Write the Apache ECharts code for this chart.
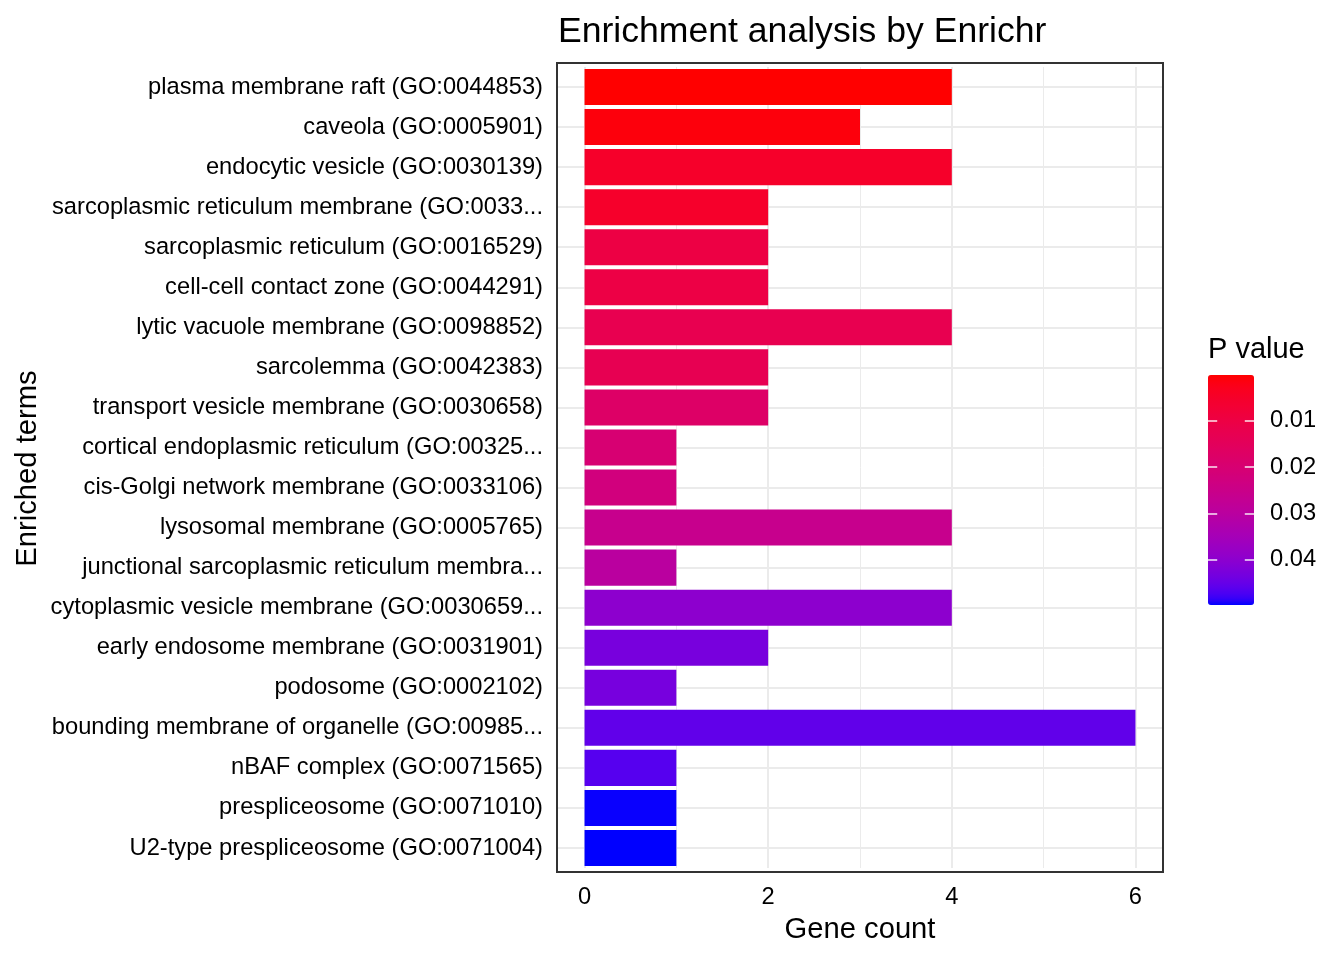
<!DOCTYPE html>
<html>
<head>
<meta charset="utf-8">
<title>Enrichment analysis by Enrichr</title>
<script src="https://cdn.jsdelivr.net/npm/echarts@6/dist/echarts.min.js"></script>
<style>
html, body { margin: 0; padding: 0; background: #fff; }
#main { width: 1344px; height: 960px; }
</style>
</head>
<body>
<div id="main"></div>
<script>
// data
var terms = [
    "plasma membrane raft (GO:0044853)",
    "caveola (GO:0005901)",
    "endocytic vesicle (GO:0030139)",
    "sarcoplasmic reticulum membrane (GO:0033...",
    "sarcoplasmic reticulum (GO:0016529)",
    "cell-cell contact zone (GO:0044291)",
    "lytic vacuole membrane (GO:0098852)",
    "sarcolemma (GO:0042383)",
    "transport vesicle membrane (GO:0030658)",
    "cortical endoplasmic reticulum (GO:00325...",
    "cis-Golgi network membrane (GO:0033106)",
    "lysosomal membrane (GO:0005765)",
    "junctional sarcoplasmic reticulum membra...",
    "cytoplasmic vesicle membrane (GO:0030659...",
    "early endosome membrane (GO:0031901)",
    "podosome (GO:0002102)",
    "bounding membrane of organelle (GO:00985...",
    "nBAF complex (GO:0071565)",
    "prespliceosome (GO:0071010)",
    "U2-type prespliceosome (GO:0071004)"
];
var geneCounts = [4, 3, 4, 2, 2, 2, 4, 2, 2, 1, 1, 4, 1, 4, 2, 1, 6, 1, 1, 1];
var pValues = [0.00012, 0.0011, 0.0050, 0.0052, 0.0100, 0.0102, 0.0126, 0.0131, 0.0175, 0.0200,
               0.0225, 0.0260, 0.0300, 0.0399, 0.0429, 0.0431, 0.0455, 0.0465, 0.0496, 0.0498];
var countTicks = [0, 2, 4, 6];
var countMinorTicks = [1, 3, 5];
var pTicks = [0.01, 0.02, 0.03, 0.04];

var FONT = "'Liberation Sans', Arial, Helvetica, sans-serif";
// panel box (ggplot panel incl. 0.6 discrete expansion each side)
var panel = {left: 557, top: 63, width: 606, height: 809};
var unit = panel.height / (terms.length + 0.2);
var inner = {top: panel.top + 0.1 * unit, height: unit * terms.length};
var bar = {left: 1208, top: 375, width: 46, height: 230};

// red -> blue ramp interpolated in Lab like ggplot
function toLin(c) { c /= 255; return c <= 0.04045 ? c / 12.92 : Math.pow((c + 0.055) / 1.055, 2.4); }
function toSrgb(c) {
    c = c <= 0.0031308 ? 12.92 * c : 1.055 * Math.pow(c, 1 / 2.4) - 0.055;
    return Math.round(Math.max(0, Math.min(1, c)) * 255);
}
function rgbToLab(rgb) {
    var r = toLin(rgb[0]), g = toLin(rgb[1]), b = toLin(rgb[2]);
    var x = (0.4124 * r + 0.3576 * g + 0.1805 * b) / 0.95047;
    var y = 0.2126 * r + 0.7152 * g + 0.0722 * b;
    var z = (0.0193 * r + 0.1192 * g + 0.9505 * b) / 1.08883;
    var f = function (t) { return t > 0.008856 ? Math.cbrt(t) : 7.787 * t + 16 / 116; };
    var fx = f(x), fy = f(y), fz = f(z);
    return [116 * fy - 16, 500 * (fx - fy), 200 * (fy - fz)];
}
function labToHex(lab) {
    var fy = (lab[0] + 16) / 116, fx = fy + lab[1] / 500, fz = fy - lab[2] / 200;
    var inv = function (f) { var f3 = f * f * f; return f3 > 0.008856 ? f3 : (f - 16 / 116) / 7.787; };
    var x = 0.95047 * inv(fx), y = inv(fy), z = 1.08883 * inv(fz);
    var r = 3.2406 * x - 1.5372 * y - 0.4986 * z;
    var g = -0.9689 * x + 1.8758 * y + 0.0415 * z;
    var b = 0.0557 * x - 0.2040 * y + 1.0570 * z;
    return "#" + [r, g, b].map(function (v) {
        var s = toSrgb(v).toString(16);
        return s.length < 2 ? "0" + s : s;
    }).join("");
}
var labLow = rgbToLab([255, 0, 0]), labHigh = rgbToLab([0, 0, 255]);
var ramp = [];
for (var i = 0; i <= 40; i++) {
    var t = i / 40;
    ramp.push(labToHex([0, 1, 2].map(function (k) { return labLow[k] + (labHigh[k] - labLow[k]) * t; })));
}

var pMin = Math.min.apply(null, pValues);
var pMax = Math.max.apply(null, pValues);

//网格线
var gridLines = [];
countTicks.forEach(function (v) { gridLines.push({xAxis: v, lineStyle: {width: 2}}); });
countMinorTicks.forEach(function (v) { gridLines.push({xAxis: v, lineStyle: {width: 1}}); });
terms.forEach(function (t) { gridLines.push({yAxis: t, lineStyle: {width: 2}}); });

// colourbar ticks (white, at both edges, 1/5 of the bar width)
var barTicks = [];
pTicks.forEach(function (v) {
    barTicks.push([{coord: [0, v]}, {coord: [0.2, v]}]);
    barTicks.push([{coord: [0.8, v]}, {coord: [1, v]}]);
});

var chart = echarts.init(document.getElementById("main"));
var option = {
    animation: false,
    backgroundColor: "#fff",
    textStyle: {fontFamily: FONT},
    title: [{
        text: "Enrichment analysis by Enrichr",
        left: 558, top: 14, padding: 0,
        textStyle: {fontFamily: FONT, fontSize: 35.6, fontWeight: "normal", color: "#000"}
    }, {
        text: "P value",
        left: bar.left, top: 335, padding: 0,
        textStyle: {fontFamily: FONT, fontSize: 29, fontWeight: "normal", color: "#000"}
    }],
    grid: [{
        left: panel.left, top: inner.top, width: panel.width, height: inner.height,
        outerBoundsMode: "none"
    }, {
        left: bar.left, top: bar.top, width: bar.width, height: bar.height,
        outerBoundsMode: "none"
    }],
    visualMap: {
        type: "continuous",
        seriesIndex: 0,
        dimension: 2,
        min: pMin,
        max: pMax,
        inverse: true,
        calculable: false,
        hoverLink: false,
        left: bar.left,
        top: bar.top,
        padding: 0,
        z: 2,
        itemWidth: bar.width,
        itemHeight: bar.height,
        text: null,
        inRange: {color: ramp}
    },
    xAxis: [{
        gridIndex: 0,
        type: "value",
        min: -0.3,
        max: 6.3,
        offset: panel.top + panel.height - inner.top - inner.height,
        axisLine: {show: false},
        axisTick: {customValues: countTicks, length: 9, lineStyle: {color: "#333", width: 2}},
        axisLabel: {customValues: countTicks, fontSize: 23.7, margin: 13, color: "#000", fontFamily: FONT},
        splitLine: {show: false}
    }, {
        gridIndex: 1,
        type: "value",
        min: 0,
        max: 1,
        show: false
    }],
    yAxis: [{
        gridIndex: 0,
        type: "category",
        data: terms,
        inverse: true,
        axisLine: {show: false},
        axisTick: {alignWithLabel: true, length: 9, lineStyle: {color: "#333", width: 2}},
        axisLabel: {interval: 0, fontSize: 23.7, margin: 14, padding: [4, 0, 0, 0],
                    color: "#000", fontFamily: FONT},
        splitLine: {show: false}
    }, {
        gridIndex: 1,
        type: "value",
        min: pMin,
        max: pMax,
        inverse: true,
        position: "right",
        axisLine: {show: false},
        axisTick: {show: false},
        axisLabel: {customValues: pTicks, fontSize: 23.7, margin: 16, padding: [5, 0, 0, 0],
                    color: "#000", fontFamily: FONT},
        splitLine: {show: false}
    }],
    series: [{
        type: "bar",
        xAxisIndex: 0,
        yAxisIndex: 0,
        z: 3,
        barCategoryGap: "10%",
        encode: {x: 0, y: 1},
        data: terms.map(function (t, i) { return [geneCounts[i], t, pValues[i]]; })
    }, {
        type: "scatter",
        xAxisIndex: 0,
        yAxisIndex: 0,
        z: 1,
        data: [],
        markLine: {
            z: 1,
            silent: true,
            symbol: ["none", "none"],
            label: {show: false},
            lineStyle: {color: "#ebebeb", type: "solid"},
            data: gridLines
        }
    }, {
        type: "scatter",
        xAxisIndex: 1,
        yAxisIndex: 1,
        data: [],
        markLine: {
            z: 10,
            silent: true,
            symbol: ["none", "none"],
            label: {show: false},
            lineStyle: {color: "#fff", type: "solid", width: 1.5, opacity: 0.9},
            data: barTicks
        }
    }],
    graphic: [{
        type: "rect",
        z: 100,
        silent: true,
        shape: {x: panel.left, y: panel.top, width: panel.width, height: panel.height},
        style: {fill: null, stroke: "#333", lineWidth: 2}
    }, {
        type: "text",
        x: panel.left + panel.width / 2,
        y: 930,
        style: {text: "Gene count", font: "29.2px " + FONT, fill: "#000", align: "center", verticalAlign: "middle"}
    }, {
        type: "text",
        x: 28,
        y: panel.top + panel.height / 2 + 1,
        rotation: Math.PI / 2,
        style: {text: "Enriched terms", font: "29.2px " + FONT, fill: "#000", align: "center", verticalAlign: "middle"}
    }]
};
chart.setOption(option);
</script>
</body>
</html>
